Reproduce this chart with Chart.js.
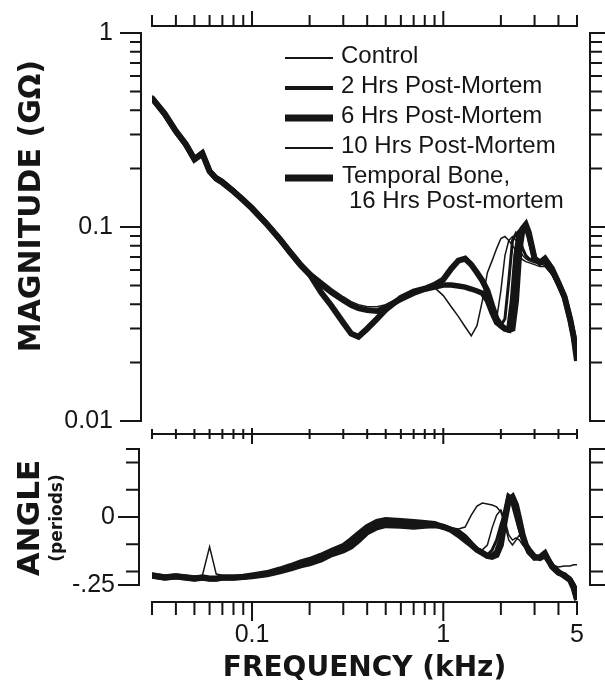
<!DOCTYPE html>
<html>
<head>
<meta charset="utf-8">
<script src="https://cdn.jsdelivr.net/npm/chart.js@4.4.1/dist/chart.umd.min.js"></script>
<style>
  html, body { margin: 0; padding: 0; background: #fff; }
  #wrap { position: relative; width: 605px; height: 694px; }
  canvas { position: absolute; left: 0; }
  #magChart { top: 0; }
  #angleChart { top: 428px; }
</style>
</head>
<body>
<div id="wrap">
  <canvas id="magChart" width="605" height="428"></canvas>
  <canvas id="angleChart" width="605" height="266"></canvas>
</div>
<script>
// frequency (kHz), shared by every curve
let freq = [0.03, 0.035, 0.04, 0.045, 0.05, 0.055, 0.06, 0.065, 0.07, 0.08, 0.09, 0.1,
  0.12, 0.14, 0.16, 0.18, 0.2, 0.23, 0.26, 0.3, 0.33, 0.36, 0.4, 0.45, 0.5, 0.6, 0.7, 0.8, 0.9,
  1.0, 1.1, 1.2, 1.3, 1.4, 1.5, 1.6, 1.7, 1.8, 1.9, 2.0, 2.1, 2.2, 2.3, 2.4, 2.5, 2.6, 2.7, 2.8,
  3.0, 3.2, 3.4, 3.7, 4.0, 4.3, 4.6, 4.8, 5.0];

let seriesNames = ['Control', '2 Hrs Post-Mortem', '6 Hrs Post-Mortem', '10 Hrs Post-Mortem',
  'Temporal Bone, 16 Hrs Post-mortem'];

// magnitude (GOhm)
let magControl = [0.475, 0.392, 0.32, 0.275, 0.23, 0.247, 0.2, 0.184, 0.176, 0.158, 0.142, 0.129,
  0.107, 0.0895, 0.0758, 0.0658, 0.059, 0.0529, 0.0481, 0.0437, 0.0412, 0.0398, 0.0388, 0.0388, 0.0398,
  0.0437, 0.047, 0.0487, 0.0487, 0.0443, 0.0388, 0.0345, 0.0306, 0.0275, 0.031, 0.0417, 0.0582, 0.0671,
  0.0774, 0.0872, 0.0893, 0.0852, 0.0803, 0.0756, 0.0712, 0.0679, 0.0663, 0.0655, 0.064, 0.0625, 0.0625,
  0.0568, 0.0493, 0.0427, 0.0345, 0.0292, 0.0241];
let mag2h = [0.472, 0.39, 0.318, 0.272, 0.228, 0.245, 0.198, 0.182, 0.174, 0.156, 0.14, 0.127,
  0.105, 0.088, 0.0745, 0.0645, 0.058, 0.0515, 0.0468, 0.0425, 0.0401, 0.0387, 0.0378, 0.0373, 0.039,
  0.0429, 0.046, 0.0482, 0.0494, 0.0505, 0.0505, 0.0499, 0.0494, 0.0482, 0.0471, 0.046, 0.0417, 0.037,
  0.0329, 0.031, 0.0336, 0.0529, 0.0852, 0.0926, 0.0872, 0.0774, 0.0712, 0.0687, 0.0671, 0.0655, 0.0655,
  0.0582, 0.0498, 0.0427, 0.0329, 0.0265, 0.0209];
let mag6h = [0.46, 0.38, 0.31, 0.266, 0.222, 0.238, 0.193, 0.177, 0.169, 0.152, 0.137, 0.124,
  0.103, 0.086, 0.0728, 0.0632, 0.0568, 0.0505, 0.046, 0.0418, 0.0395, 0.0381, 0.0372, 0.0368, 0.0386,
  0.0424, 0.0456, 0.0478, 0.049, 0.0502, 0.0502, 0.0496, 0.049, 0.0479, 0.0468, 0.0456, 0.0417, 0.0361,
  0.0321, 0.031, 0.0299, 0.0295, 0.0417, 0.0712, 0.0937, 0.0982, 0.1006, 0.0904, 0.0687, 0.0655, 0.0671,
  0.0596, 0.0511, 0.0437, 0.0336, 0.0275, 0.0214];
let mag10h = [0.467, 0.386, 0.315, 0.27, 0.226, 0.243, 0.196, 0.18, 0.172, 0.154, 0.139, 0.126,
  0.104, 0.0872, 0.0738, 0.064, 0.0575, 0.0511, 0.0464, 0.0422, 0.0398, 0.0384, 0.0375, 0.037, 0.0388,
  0.0427, 0.0459, 0.0481, 0.0493, 0.0504, 0.0504, 0.0498, 0.0493, 0.0481, 0.047, 0.0459, 0.0427, 0.0393,
  0.0336, 0.047, 0.0712, 0.0852, 0.0893, 0.0852, 0.0774, 0.0712, 0.0687, 0.0671, 0.0655, 0.0648, 0.0632,
  0.0568, 0.0487, 0.0417, 0.0336, 0.0285, 0.023];
let magBone = [0.462, 0.383, 0.312, 0.268, 0.224, 0.24, 0.194, 0.178, 0.17, 0.153, 0.138, 0.125,
  0.103, 0.0865, 0.0732, 0.0636, 0.0572, 0.0459, 0.0393, 0.0321, 0.0282, 0.0272, 0.0299, 0.0336, 0.0375,
  0.0432, 0.0464, 0.0481, 0.0504, 0.0536, 0.061, 0.0671, 0.0687, 0.064, 0.0582, 0.0529, 0.047, 0.0393,
  0.0336, 0.031, 0.0299, 0.0295, 0.0299, 0.0417, 0.0756, 0.0982, 0.103, 0.0937, 0.0687, 0.0655, 0.0687,
  0.061, 0.0516, 0.0437, 0.0336, 0.0272, 0.0204];

// angle (periods)
let angControl = [-0.206, -0.213, -0.21, -0.213, -0.217, -0.215, -0.11, -0.21, -0.214, -0.214, -0.214, -0.21,
  -0.203, -0.192, -0.18, -0.169, -0.16, -0.146, -0.128, -0.112, -0.097, -0.076, -0.048, -0.03, -0.024,
  -0.026, -0.03, -0.026, -0.024, -0.029, -0.04, -0.044, -0.037, 0.007, 0.04, 0.051, 0.048, 0.044,
  0.037, 0.018, -0.029, -0.085, -0.103, -0.085, -0.066, -0.085, -0.103, -0.121, -0.14, -0.143, -0.14,
  -0.176, -0.184, -0.18, -0.18, -0.176, -0.176];
let ang2h = [-0.213, -0.22, -0.217, -0.22, -0.224, -0.22, -0.224, -0.224, -0.22, -0.22, -0.22, -0.217,
  -0.21, -0.199, -0.188, -0.177, -0.169, -0.154, -0.136, -0.121, -0.107, -0.085, -0.055, -0.037, -0.029,
  -0.031, -0.035, -0.031, -0.029, -0.033, -0.044, -0.052, -0.07, -0.096, -0.118, -0.129, -0.14, -0.121,
  -0.085, -0.029, 0.018, 0.063, 0.044, -0.004, -0.048, -0.085, -0.11, -0.129, -0.147, -0.147, -0.132,
  -0.176, -0.202, -0.21, -0.224, -0.246, -0.287];
let ang6h = [-0.217, -0.224, -0.22, -0.224, -0.228, -0.224, -0.228, -0.228, -0.224, -0.224, -0.222, -0.219,
  -0.212, -0.201, -0.19, -0.179, -0.171, -0.157, -0.138, -0.124, -0.109, -0.087, -0.057, -0.039, -0.031,
  -0.033, -0.037, -0.033, -0.031, -0.035, -0.046, -0.055, -0.074, -0.099, -0.121, -0.132, -0.143, -0.143,
  -0.129, -0.085, 0.007, 0.074, 0.063, 0.026, -0.029, -0.074, -0.103, -0.129, -0.151, -0.147, -0.132,
  -0.184, -0.206, -0.213, -0.232, -0.254, -0.305];
let ang10h = [-0.21, -0.217, -0.213, -0.217, -0.221, -0.217, -0.221, -0.221, -0.217, -0.217, -0.217, -0.213,
  -0.206, -0.195, -0.184, -0.173, -0.165, -0.151, -0.132, -0.118, -0.103, -0.081, -0.051, -0.033, -0.026,
  -0.029, -0.033, -0.029, -0.026, -0.029, -0.04, -0.048, -0.066, -0.092, -0.114, -0.121, -0.103, -0.04,
  0.007, 0.026, -0.011, -0.066, -0.085, -0.077, -0.085, -0.103, -0.114, -0.129, -0.143, -0.143, -0.143,
  -0.18, -0.202, -0.213, -0.224, -0.239, -0.261];
let angBone = [-0.215, -0.222, -0.218, -0.222, -0.226, -0.222, -0.226, -0.226, -0.222, -0.222, -0.22, -0.215,
  -0.206, -0.193, -0.18, -0.167, -0.158, -0.142, -0.125, -0.107, -0.085, -0.063, -0.037, -0.018, -0.011,
  -0.015, -0.018, -0.022, -0.026, -0.037, -0.048, -0.066, -0.085, -0.103, -0.121, -0.132, -0.143, -0.147,
  -0.14, -0.103, -0.011, 0.063, 0.074, 0.044, -0.011, -0.066, -0.103, -0.121, -0.147, -0.151, -0.14,
  -0.18, -0.202, -0.217, -0.232, -0.261, -0.305];

// ticks and their labels
let magTicks = [1, 0.1, 0.01];
let magLabels = ['1', '0.1', '0.01'];
let angleTicks = [-0.25, -0.2, -0.1, 0, 0.1, 0.2, 0.25];
let angleLabelTicks = [0, -0.25];
let angleLabels = ['0', '-.25'];
let freqTicks = [0.1, 1, 5];
let freqLabels = ['0.1', '1', '5'];

let magSeries = [magControl, mag2h, mag6h, mag10h, magBone];
let angSeries = [angControl, ang2h, ang6h, ang10h, angBone];

const ink = '#151515';
const curveWidths = [1.5, 3, 5.5, 1.5, 6];
const keyWidths = [2.2, 4, 7, 2.2, 7];
const tickFont = { family: '"Liberation Sans", Arial, sans-serif', size: 25 };
const titleFamily = '"DejaVu Sans", sans-serif';

function near(a, b) {
  return Math.abs(a - b) < 1e-6 * Math.max(1, Math.abs(b));
}
function labelFor(v, vals, labels) {
  let k = vals.findIndex(t => near(v, t));
  return k < 0 ? '' : labels[k];
}
function isDecade(v) {
  let l = Math.log10(v);
  return Math.abs(l - Math.round(l)) < 1e-6;
}
function wholeMantissa(v) {
  let m = v / Math.pow(10, Math.floor(Math.log10(v) + 1e-9));
  return Math.abs(m - Math.round(m)) < 1e-6;
}
// fixed scale size, and no extra chart-area inset for the tick labels
function fixWidth(w) {
  return s => { s.width = w; s.paddingTop = 0; s.paddingBottom = 0; };
}
function fixHeight(h) {
  return s => { s.height = h; s.paddingLeft = 0; s.paddingRight = 0; };
}

function makeDatasets(series) {
  return seriesNames.map((name, i) => ({
    label: name,
    data: freq.map((f, j) => ({ x: f, y: series[i][j] })),
    borderColor: ink,
    borderWidth: curveWidths[i],
    pointRadius: 0,
    tension: 0,
    fill: false
  }));
}

// detached axis lines with tick marks, placed off the chart area edges
function frameAxes(specs) {
  return {
    id: 'frameAxes',
    afterDraw(chart) {
      const ctx = chart.ctx;
      const area = chart.chartArea;
      ctx.save();
      ctx.strokeStyle = ink;
      ctx.lineWidth = 2;
      ctx.lineCap = 'square';
      specs.forEach(ax => {
        const s = chart.scales[ax.scale];
        const lo = ax.from !== undefined ? ax.from : s.min;
        const hi = ax.to !== undefined ? ax.to : s.max;
        const at = area[ax.edge] + (ax.offset || 0);
        const horiz = s.isHorizontal();
        const p0 = s.getPixelForValue(lo), p1 = s.getPixelForValue(hi);
        ctx.beginPath();
        if (horiz) { ctx.moveTo(p0, at); ctx.lineTo(p1, at); }
        else { ctx.moveTo(at, p0); ctx.lineTo(at, p1); }
        s.ticks.forEach(t => {
          const v = t.value;
          if (v < lo - 1e-9 || v > hi + 1e-9) return;
          if (s.type === 'logarithmic' && !wholeMantissa(v)) return;
          const major = ax.majors ? ax.majors.some(m => near(v, m)) : isDecade(v);
          const len = major ? ax.major : ax.minor;
          const p = s.getPixelForValue(v);
          const a = ax.dir === 0 ? -len / 2 : 0;
          const b = ax.dir === 0 ? len / 2 : ax.dir * len;
          if (horiz) { ctx.moveTo(p, at + a); ctx.lineTo(p, at + b); }
          else { ctx.moveTo(at + a, p); ctx.lineTo(at + b, p); }
        });
        ctx.stroke();
      });
      ctx.restore();
    }
  };
}

// line key drawn inside the magnitude panel
const seriesKey = {
  id: 'seriesKey',
  afterDatasetsDraw(chart) {
    const ctx = chart.ctx;
    const rows = [56, 86, 116, 146, 176];
    ctx.save();
    ctx.fillStyle = ink;
    ctx.strokeStyle = ink;
    ctx.font = '24px "Liberation Sans", Arial, sans-serif';
    ctx.textBaseline = 'middle';
    chart.data.datasets.forEach((ds, i) => {
      ctx.beginPath();
      ctx.lineWidth = keyWidths[i];
      ctx.moveTo(285, rows[i] + 2);
      ctx.lineTo(333, rows[i] + 2);
      ctx.stroke();
      const parts = ds.label.split(', ');
      if (parts.length > 1) {
        ctx.fillText(parts[0] + ',', 342, rows[i]);
        ctx.fillText(parts[1], 349, rows[i] + 25);
      } else {
        ctx.fillText(ds.label, 341, rows[i]);
      }
    });
    ctx.restore();
  }
};

const noGrid = { display: false, drawTicks: false };
const noBorder = { display: false };

new Chart(document.getElementById('magChart'), {
  type: 'line',
  data: { datasets: makeDatasets(magSeries) },
  options: {
    responsive: false,
    animation: false,
    events: [],
    layout: { padding: { top: 0, bottom: 7, left: 0, right: 0 } },
    plugins: { legend: { display: false }, tooltip: { enabled: false } },
    scales: {
      x: {
        type: 'logarithmic', position: 'top', min: 0.03, max: 5,
        ticks: { display: false }, grid: noGrid, border: noBorder,
        afterFit: fixHeight(33)
      },
      y: {
        type: 'logarithmic', position: 'left', min: 0.01, max: 1,
        ticks: {
          autoSkip: false, padding: 39, color: ink, font: tickFont,
          callback: v => labelFor(v, magTicks, magLabels)
        },
        grid: noGrid, border: noBorder,
        title: {
          // leading spaces lift the label a little above the panel centre, as in the original
          display: true, text: '    MAGNITUDE (GΩ)', color: ink,
          font: { family: titleFamily, size: 30, weight: 'bold' },
          padding: { top: 14, bottom: 0 }
        },
        afterFit: fixWidth(152)
      },
      y2: {
        type: 'logarithmic', position: 'right', min: 0.01, max: 1,
        ticks: { display: false }, grid: noGrid, border: noBorder,
        afterFit: fixWidth(28)
      }
    }
  },
  plugins: [
    frameAxes([
      { scale: 'x', edge: 'top', offset: -7, dir: -1, major: 14, minor: 10 },
      { scale: 'y', edge: 'left', offset: -11, dir: -1, major: 20, minor: 10 },
      { scale: 'y2', edge: 'right', offset: 13, dir: 1, major: 15, minor: 11 }
    ]),
    seriesKey
  ]
});

function setAngleTicks(s) {
  s.ticks = angleTicks.map(v => ({ value: v }));
}

new Chart(document.getElementById('angleChart'), {
  type: 'line',
  data: { datasets: makeDatasets(angSeries) },
  options: {
    responsive: false,
    animation: false,
    events: [],
    layout: { padding: { top: 6, bottom: 0, left: 0, right: 0 } },
    plugins: { legend: { display: false }, tooltip: { enabled: false } },
    scales: {
      x: {
        type: 'logarithmic', position: 'bottom', min: 0.03, max: 5,
        ticks: {
          autoSkip: false, maxRotation: 0, padding: 18, color: ink, font: tickFont,
          callback: v => labelFor(v, freqTicks, freqLabels)
        },
        grid: noGrid, border: noBorder,
        title: {
          display: true, text: 'FREQUENCY (kHz)', color: ink,
          font: { family: titleFamily, size: 28, weight: 'bold' },
          padding: { top: 0, bottom: 8 }
        },
        afterFit: fixHeight(92)
      },
      yt: {
        type: 'linear', position: 'left', weight: 1, min: -0.3125, max: 0.305,
        ticks: { display: false }, grid: noGrid, border: noBorder,
        title: {
          display: true, text: 'ANGLE', color: ink,
          font: { family: titleFamily, size: 31, weight: 'bold' },
          padding: { top: 12, bottom: 0 }
        },
        afterFit: fixWidth(44)
      },
      y: {
        type: 'linear', position: 'left', weight: 0, min: -0.3125, max: 0.305,
        afterBuildTicks: setAngleTicks,
        ticks: {
          autoSkip: false, padding: 37, color: ink, font: tickFont,
          callback: v => labelFor(v, angleLabelTicks, angleLabels)
        },
        grid: noGrid, border: noBorder,
        title: {
          display: true, text: '(periods)', color: ink,
          font: { family: titleFamily, size: 17, weight: 'bold' },
          padding: { top: 3, bottom: 0 }
        },
        afterFit: fixWidth(108)
      },
      y2: {
        type: 'linear', position: 'right', min: -0.3125, max: 0.305,
        afterBuildTicks: setAngleTicks,
        ticks: { display: false }, grid: noGrid, border: noBorder,
        afterFit: fixWidth(28)
      }
    }
  },
  plugins: [
    frameAxes([
      { scale: 'x', edge: 'top', offset: 0, dir: 0, major: 18, minor: 8 },
      { scale: 'x', edge: 'bottom', offset: 0, dir: 1, major: 18, minor: 12 },
      { scale: 'y', edge: 'left', offset: -13, dir: -1, major: 20, minor: 12,
        from: -0.25, to: 0.25, majors: [0, -0.25] },
      { scale: 'y2', edge: 'right', offset: 13, dir: 1, major: 15, minor: 12,
        from: -0.25, to: 0.25, majors: [0.25, -0.25] }
    ])
  ]
});
</script>
</body>
</html>
